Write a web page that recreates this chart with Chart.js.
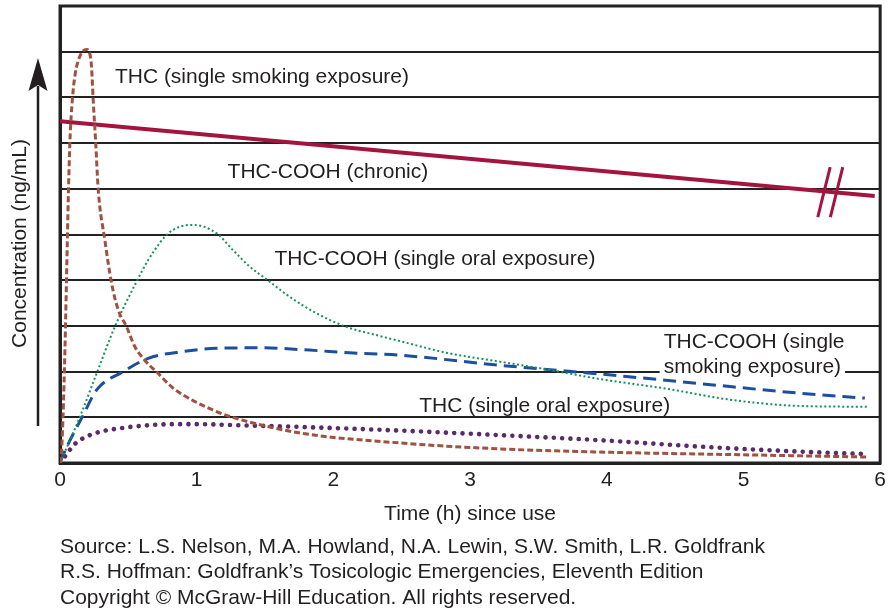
<!DOCTYPE html>
<html><head><meta charset="utf-8">
<script src="https://cdn.jsdelivr.net/npm/chart.js@4.4.1/dist/chart.umd.min.js"></script>
<style>html,body{margin:0;padding:0;background:#fff;} #wrap{width:891px;height:608px;}</style>
</head><body><div id="wrap"><canvas id="c" width="891" height="608"></canvas></div>
<script>
// ---- data (time in hours, concentration in grid units) ----
const xTicks = [0, 1, 2, 3, 4, 5, 6];

const thcSmokeT = [0, 0.007, 0.022, 0.036, 0.053, 0.062, 0.073, 0.09, 0.11, 0.15, 0.195, 0.226, 0.234, 0.243, 0.26, 0.28, 0.328, 0.377, 0.426, 0.487, 0.547, 0.62, 0.718, 0.815, 0.9, 1.117, 1.263, 1.75, 2.48, 3.21, 3.94, 5.0, 5.91];
const thcSmokeY = [0, 0.07, 1.0, 2.47, 4.77, 5.97, 7.07, 7.94, 8.49, 8.93, 9.05, 8.82, 8.49, 7.94, 7.07, 5.97, 4.88, 3.94, 3.35, 2.98, 2.55, 2.25, 1.96, 1.67, 1.49, 1.16, 1.0, 0.66, 0.44, 0.31, 0.24, 0.18, 0.13];

const chronicT = [0, 5.96];
const chronicY = [7.48, 5.84];

const oralCoohT = [0, 0.146, 0.268, 0.401, 0.56, 0.645, 0.693, 0.779, 0.876, 0.973, 1.144, 1.265, 1.387, 1.52, 1.679, 1.874, 2.093, 2.312, 2.482, 2.847, 3.212, 3.577, 3.942, 4.428, 4.915, 5.401, 5.912];
const oralCoohY = [0, 1.01, 1.96, 2.98, 3.97, 4.44, 4.66, 4.99, 5.17, 5.21, 5.03, 4.66, 4.30, 4.00, 3.64, 3.28, 2.98, 2.80, 2.67, 2.40, 2.22, 2.04, 1.84, 1.63, 1.38, 1.25, 1.23];

const smokeCoohT = [0, 0.012, 0.17, 0.268, 0.462, 0.645, 0.9, 1.144, 1.46, 1.825, 2.117, 2.482, 3.212, 3.942, 4.672, 5.401, 5.888];
const smokeCoohY = [0, 0.10, 1.05, 1.60, 2.00, 2.29, 2.44, 2.51, 2.52, 2.47, 2.41, 2.36, 2.14, 1.95, 1.74, 1.53, 1.42];

const oralThcT = [0, 0.06, 0.11, 0.195, 0.29, 0.438, 0.584, 0.827, 1.02, 1.263, 1.75, 2.482, 3.212, 3.942, 4.672, 5.401, 5.86];
const oralThcY = [0, 0.24, 0.42, 0.58, 0.68, 0.76, 0.81, 0.85, 0.85, 0.83, 0.79, 0.71, 0.61, 0.50, 0.36, 0.25, 0.20];

const breakAtT = 5.635;

const curveLabels = [
  {text: 'THC (single smoking exposure)', t: 0.4015, v: 8.315, box: false},
  {text: 'THC-COOH (chronic)', t: 1.226, v: 6.236, box: false},
  {text: 'THC-COOH (single oral exposure)', t: 1.569, v: 4.333, box: false},
  {text: 'THC-COOH (single', t: 4.416, v: 2.516, box: false},
  {text: 'smoking exposure)', t: 4.416, v: 1.969, box: true},
  {text: 'THC (single oral exposure)', t: 2.628, v: 1.116, box: false}
];

const yTitle = 'Concentration (ng/mL)';
const xTitle = 'Time (h) since use';
const footerLines = [
  'Source: L.S. Nelson, M.A. Howland, N.A. Lewin, S.W. Smith, L.R. Goldfrank',
  'R.S. Hoffman: Goldfrank\u2019s Tosicologic Emergencies, Eleventh Edition',
  'Copyright \u00A9 McGraw-Hill Education. All rights reserved.'
];

// ---- helpers ----
const pts = (ts, ys) => ts.map((t, i) => ({x: t, y: ys[i]}));
const FONT = "'Liberation Sans', Arial, Helvetica, sans-serif";
const INK = '#231f20';
const CRIMSON = '#a3143f';

const decor = {
  id: 'decor',
  beforeDatasetsDraw(chart) {
    const {ctx, chartArea: a} = chart;
    ctx.save();
    ctx.strokeStyle = '#222';
    ctx.lineWidth = 3;
    ctx.strokeRect(a.left, a.top, a.right - a.left, a.bottom - a.top);
    ctx.restore();
  },
  afterDatasetsDraw(chart) {
    const {ctx, chartArea: a, scales: {x, y}} = chart;
    ctx.save();
    // break marks on chronic line
    const bv = chronicY[0] + (chronicY[1] - chronicY[0]) * (breakAtT - chronicT[0]) / (chronicT[1] - chronicT[0]);
    const bx = x.getPixelForValue(breakAtT), by = y.getPixelForValue(bv);
    ctx.strokeStyle = CRIMSON;
    ctx.lineWidth = 3;
    [-6.3, 6.3].forEach(off => {
      ctx.beginPath();
      ctx.moveTo(bx + off + 6.2, by - 25);
      ctx.lineTo(bx + off - 6.2, by + 25);
      ctx.stroke();
    });
    // curve labels
    ctx.font = '21px ' + FONT;
    ctx.textBaseline = 'alphabetic';
    ctx.textAlign = 'left';
    curveLabels.forEach(l => {
      const px = x.getPixelForValue(l.t), py = y.getPixelForValue(l.v);
      if (l.box) {
        const w = ctx.measureText(l.text).width;
        ctx.fillStyle = '#fff';
        ctx.fillRect(px - 4, py - 17, w + 8, 22);
      }
      ctx.fillStyle = INK;
      ctx.fillText(l.text, px, py);
    });
    ctx.restore();
  },
  afterDraw(chart) {
    const {ctx, chartArea: a} = chart;
    ctx.save();
    ctx.fillStyle = INK;
    ctx.strokeStyle = INK;
    // y axis arrow
    ctx.lineWidth = 2.5;
    ctx.beginPath();
    ctx.moveTo(38, 426);
    ctx.lineTo(38, 86);
    ctx.stroke();
    ctx.beginPath();
    ctx.moveTo(38, 58);
    ctx.lineTo(47.5, 91);
    ctx.lineTo(38, 85);
    ctx.lineTo(28.5, 91);
    ctx.closePath();
    ctx.fill();
    // y title
    ctx.font = '21px ' + FONT;
    ctx.textAlign = 'center';
    ctx.textBaseline = 'alphabetic';
    ctx.save();
    ctx.translate(26, 243.5);
    ctx.rotate(-Math.PI / 2);
    ctx.fillText(yTitle, 0, 0);
    ctx.restore();
    // x title
    ctx.fillText(xTitle, (a.left + a.right) / 2, 519.5);
    // footer
    ctx.textAlign = 'left';
    footerLines.forEach((s, i) => ctx.fillText(s, 60, 552.5 + i * 25.5));
    ctx.restore();
  }
};

new Chart(document.getElementById('c'), {
  type: 'line',
  data: {
    datasets: [
      {label: 'THC (single smoking exposure)', data: pts(thcSmokeT, thcSmokeY), borderColor: '#a0513f', borderWidth: 3, borderDash: [6, 3], cubicInterpolationMode: 'monotone'},
      {label: 'THC-COOH (chronic)', data: pts(chronicT, chronicY), borderColor: CRIMSON, borderWidth: 4},
      {label: 'THC-COOH (single oral exposure)', data: pts(oralCoohT, oralCoohY), borderColor: '#17905a', borderWidth: 2, borderDash: [2, 2.5], cubicInterpolationMode: 'monotone'},
      {label: 'THC-COOH (single smoking exposure)', data: pts(smokeCoohT, smokeCoohY), borderColor: '#1d4f9e', borderWidth: 3, borderDash: [13, 7], cubicInterpolationMode: 'monotone'},
      {label: 'THC (single oral exposure)', data: pts(oralThcT, oralThcY), borderColor: '#5b2a6b', borderWidth: 4.6, borderDash: [0.01, 8.3], borderCapStyle: 'round', cubicInterpolationMode: 'monotone'}
    ]
  },
  options: {
    responsive: false,
    animation: false,
    events: [],
    elements: {point: {radius: 0}, line: {fill: false}},
    layout: {padding: {left: 60, right: 9, top: 6, bottom: 0}},
    plugins: {legend: {display: false}, tooltip: {enabled: false}},
    scales: {
      x: {
        type: 'linear', min: 0, max: 6,
        afterBuildTicks: s => { s.ticks = xTicks.map(v => ({value: v})); },
        afterFit: s => { s.height = 145; },
        grid: {display: false, drawTicks: false},
        border: {display: true, color: '#222', width: 3},
        ticks: {color: INK, font: {family: FONT, size: 21}, padding: 5, maxRotation: 0}
      },
      y: {
        type: 'linear', min: 0, max: 10,
        ticks: {display: false, stepSize: 1},
        afterFit: s => { s.width = 0; },
        grid: {color: '#222', lineWidth: 2, drawTicks: false},
        border: {display: true, color: '#222', width: 3}
      }
    }
  },
  plugins: [decor]
});
</script>
</body></html>
